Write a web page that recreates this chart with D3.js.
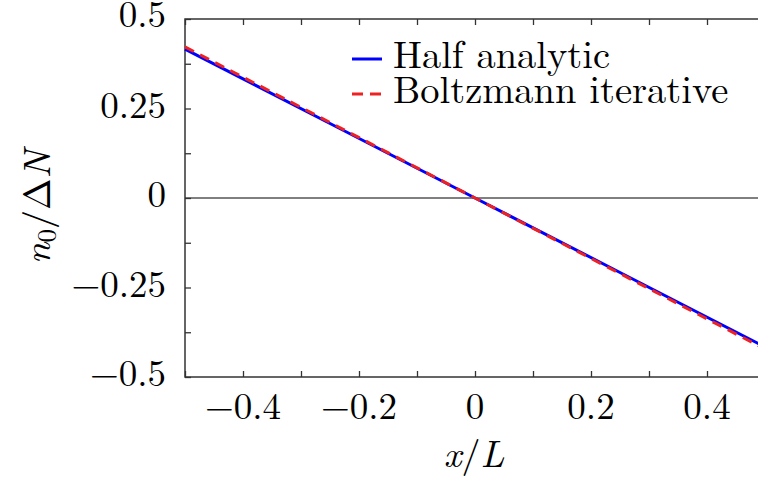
<!DOCTYPE html>
<html>
<head>
<meta charset="utf-8">
<script src="https://cdn.jsdelivr.net/npm/d3@7"></script>
<style>
  html, body { margin: 0; padding: 0; background: #fff; }
  svg { display: block; }
</style>
</head>
<body>
<svg id="chart" width="758" height="483"></svg>
<script>
// Position along the sample, x/L
const xPositions = [-0.5, -0.25, 0, 0.25, 0.5];
// n0/ΔN for each model
const halfAnalytic = [0.416, 0.208, 0, -0.208, -0.416];
const boltzmannIterative = [0.422, 0.211, 0, -0.211, -0.422];

const xMajorTicks = [-0.4, -0.2, 0, 0.2, 0.4];
const xMinorTicks = [-0.5, -0.4, -0.3, -0.2, -0.1, 0, 0.1, 0.2, 0.3, 0.4, 0.5];
const yMajorTicks = [-0.5, -0.25, 0, 0.25, 0.5];
const yMinorTicks = [-0.5, -0.375, -0.25, -0.125, 0, 0.125, 0.25, 0.375, 0.5];

const legendLabels = ["Half analytic", "Boltzmann iterative"];

const FONT = "'Latin Modern Roman', 'CMU Serif', 'Liberation Serif', serif";

const svg = d3.select("#chart").attr("font-family", FONT);
const margin = { left: 185, top: 19, right: 765, bottom: 377 };

const x = d3.scaleLinear().domain([-0.5, 0.5]).range([margin.left, margin.right]);
const y = d3.scaleLinear().domain([-0.5, 0.5]).range([margin.bottom, margin.top]);

const axisColor = "#333";
const fmt = v => (v === 0 ? "0" : (v < 0 ? "\u2212" : "") + String(Math.abs(v)));

// Zero reference line
svg.append("line")
  .attr("x1", x(-0.5)).attr("x2", x(0.5))
  .attr("y1", y(0)).attr("y2", y(0))
  .attr("stroke", "#000").attr("stroke-width", 1);

// Frame
svg.append("rect")
  .attr("x", margin.left).attr("y", margin.top)
  .attr("width", margin.right - margin.left).attr("height", margin.bottom - margin.top)
  .attr("fill", "none").attr("stroke", axisColor).attr("stroke-width", 1.5);

// Inward ticks on bottom, top and left
const tickLen = 6;
const bottomAxis = d3.axisTop(x).tickValues(xMinorTicks).tickSize(tickLen).tickFormat("");
const topAxis = d3.axisBottom(x).tickValues(xMinorTicks).tickSize(tickLen).tickFormat("");
const leftAxis = d3.axisRight(y).tickValues(yMinorTicks).tickSize(tickLen).tickFormat("");

function styleAxis(g) {
  g.select(".domain").remove();
  g.selectAll(".tick line").attr("stroke", axisColor).attr("stroke-width", 1.3);
}
svg.append("g").attr("transform", `translate(0,${margin.bottom})`).call(bottomAxis).call(styleAxis);
svg.append("g").attr("transform", `translate(0,${margin.top})`).call(topAxis).call(styleAxis);
svg.append("g").attr("transform", `translate(${margin.left},0)`).call(leftAxis).call(styleAxis);

// Tick labels
const labelSize = 37;
svg.append("g").selectAll("text").data(xMajorTicks).join("text")
  .attr("x", d => x(d)).attr("y", 419)
  .attr("text-anchor", "middle").attr("font-size", labelSize)
  .text(fmt);

svg.append("g").selectAll("text").data(yMajorTicks).join("text")
  .attr("x", 166).attr("y", d => y(d) + (d === 0.5 ? 8 : 9))
  .attr("text-anchor", "end").attr("font-size", labelSize)
  .text(fmt);

// Axis titles
const xTitle = svg.append("text").attr("x", 474).attr("y", 467)
  .attr("text-anchor", "middle").attr("font-size", 38);
xTitle.append("tspan").attr("font-style", "italic").text("x");
xTitle.append("tspan").text("/");
xTitle.append("tspan").attr("font-style", "italic").text("L");

const yTitle = svg.append("text")
  .attr("transform", "translate(50,207) rotate(-90)")
  .attr("text-anchor", "middle").attr("font-size", 38);
yTitle.append("tspan").attr("font-style", "italic").text("n");
yTitle.append("tspan").attr("font-size", 27).attr("dy", 6).text("0");
yTitle.append("tspan").attr("dy", -6).text("/\u0394");
yTitle.append("tspan").attr("font-style", "italic").text("N");

// Curves
const plot = svg.append("g");
const lineGen = d3.line().x((d, i) => x(xPositions[i])).y(d => y(d));

plot.append("path").datum(halfAnalytic)
  .attr("d", lineGen).attr("fill", "none")
  .attr("stroke", "#0000ff").attr("stroke-width", 3);

plot.append("path").datum(boltzmannIterative)
  .attr("d", lineGen).attr("fill", "none")
  .attr("stroke", "#ee2222").attr("stroke-width", 3)
  .attr("stroke-dasharray", "10,7");

// Legend
const legend = svg.append("g");
const legendStyles = [
  { color: "#0000ff", dash: null },
  { color: "#ee2222", dash: "11,7" }
];
legendLabels.forEach((label, i) => {
  const cy = 59 + i * 35;
  legend.append("line")
    .attr("x1", 352).attr("x2", 382).attr("y1", cy).attr("y2", cy)
    .attr("stroke", legendStyles[i].color).attr("stroke-width", 3)
    .attr("stroke-dasharray", legendStyles[i].dash);
  legend.append("text")
    .attr("x", 393).attr("y", cy + 9)
    .attr("font-size", 38.5).text(label);
});
</script>
</body>
</html>
